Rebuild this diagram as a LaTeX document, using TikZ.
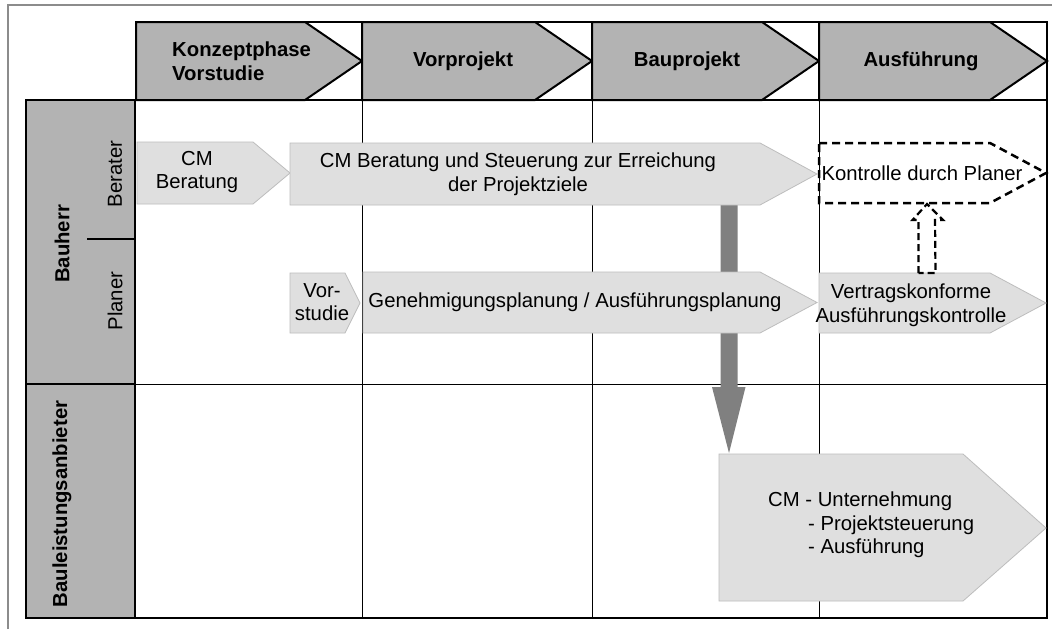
\documentclass[tikz,border=0pt]{standalone}
\usepackage{fontspec}
\setmainfont{Liberation Sans}
\usetikzlibrary{arrows.meta}
\definecolor{hdr}{HTML}{B3B3B3}
\definecolor{lite}{HTML}{DFDFDF}
\definecolor{liteedge}{HTML}{BDBDBD}
\definecolor{dark}{HTML}{808080}
\definecolor{framegray}{HTML}{8C8C8C}
\begin{document}
\begin{tikzpicture}[x=1pt,y=-1pt,
  txt/.style={inner sep=0pt, font=\fontsize{20.3}{23.5}\selectfont, align=center},
  btxt/.style={inner sep=0pt, font=\fontsize{20.3}{23.5}\selectfont\bfseries, align=center},
  thickline/.style={line width=2pt, black},
  thinline/.style={line width=0.9pt, black},
  hdrarrow/.style={fill=hdr, draw=black, line width=2pt, line join=miter},
  litearrow/.style={fill=lite, draw=liteedge, line width=0.8pt},
  dashbox/.style={draw=black, line width=2.5pt, dash pattern=on 8pt off 5pt}
]
\useasboundingbox (0,0) rectangle (1056,629);
\fill[white] (0,0) rectangle (1056,629);
% outer frame
\draw[framegray, line width=1.2pt] (8,629) -- (8,5) -- (1052,5);

% header cells
\foreach \a/\b in {136/362, 362/592, 592/819, 819/1047} {
  \draw[thickline, fill=white] (\a,22) rectangle (\b,100);
  \draw[hdrarrow] (\a,22) -- (\b-57,22) -- (\b,61) -- (\b-57,100) -- (\a,100) -- cycle;
}
\node[btxt, anchor=west, align=left] (h1) at (172,61) {Konzeptphase\\Vorstudie};
\node[btxt] (h2) at (463,61) {Vorprojekt};
\node[btxt] (h3) at (687,61) {Bauprojekt};
\node[btxt] (h4) at (921,61) {Ausführung};

% grid
\foreach \x in {362,592,819} \draw[thinline] (\x,100) -- (\x,618);
\draw[thinline] (135,384) -- (1047,384);
\draw[thickline] (1047,22) -- (1047,618) -- (135,618);

% left label boxes
\draw[thickline, fill=hdr] (26,100) rectangle (135,384);
\draw[thickline, fill=hdr] (26,384) rectangle (135,618);
\draw[thickline] (87,239) -- (135,239);
\node[btxt, rotate=90] (bauherr) at (62,244) {Bauherr};
\node[txt, rotate=90] (berater) at (115,174) {Berater};
\node[txt, rotate=90] (planer) at (115,301) {Planer};
\node[btxt, rotate=90] (bla) at (62,504) {Bauleistungsanbieter};

% big gray block arrow (behind the light arrows)
\coordinate (gs) at (729,205);
\coordinate (ge) at (729,453);
\fill[dark] ([xshift=-8.5pt]gs) -- ([xshift=-8.5pt]gs |- 0,387) -- ([xshift=-17pt]gs |- 0,387)
  -- (ge) -- ([xshift=16.5pt]gs |- 0,387) -- ([xshift=8.5pt]gs |- 0,387) -- ([xshift=8.5pt]gs) -- cycle;

% light arrows
\draw[litearrow] (137,142) -- (253,142) -- (290,173) -- (253,204) -- (137,204) -- cycle;
\node[txt] (cmb) at (197,172) {CM\\Beratung};

\draw[litearrow] (290,143) -- (760,143) -- (817,174) -- (760,205) -- (290,205) -- cycle;
\node[txt] (steu) at (518,174) {CM Beratung und Steuerung zur Erreichung\\der Projektziele};

\draw[litearrow] (290,273) -- (345,273) -- (360,303) -- (345,333) -- (290,333) -- cycle;
\node[txt] (vor) at (322,302) {Vor-\\studie};

\draw[litearrow] (363,272) -- (760,272) -- (817,302.5) -- (760,333) -- (363,333) -- cycle;
\node[txt] (gen) at (575,302) {Genehmigungsplanung / Ausführungsplanung};

\draw[litearrow] (819,273) -- (990,273) -- (1046,303) -- (990,333) -- (819,333) -- cycle;
\node[txt] (vk) at (911,305) {Vertragskonforme\\Ausführungskontrolle};

\draw[litearrow] (719,454) -- (963,454) -- (1046,528) -- (963,601) -- (719,601) -- cycle;
\node[txt, anchor=west, align=left] (cmu) at (768,525) {CM - Unternehmung\\\hspace*{40pt}- Projektsteuerung\\\hspace*{40pt}- Ausführung};

% dashed control box
\draw[dashbox] (819,143) -- (990,143) -- (1046,173) -- (990,203) -- (819,203) -- cycle;
\node[txt] (kp) at (922,173) {Kontrolle durch Planer};

% dashed hollow up arrow
\coordinate (ub) at (927,273);
\draw[dashbox, line width=2.2pt, dash pattern=on 7pt off 4pt, line join=miter]
  ([xshift=-8.5pt]ub) -- ++(0,-53) -- ++(-6,0) -- (927,204) -- (943,220) -- ++(-8,0) -- ([xshift=8.5pt]ub) -- cycle;
\end{tikzpicture}
\end{document}
